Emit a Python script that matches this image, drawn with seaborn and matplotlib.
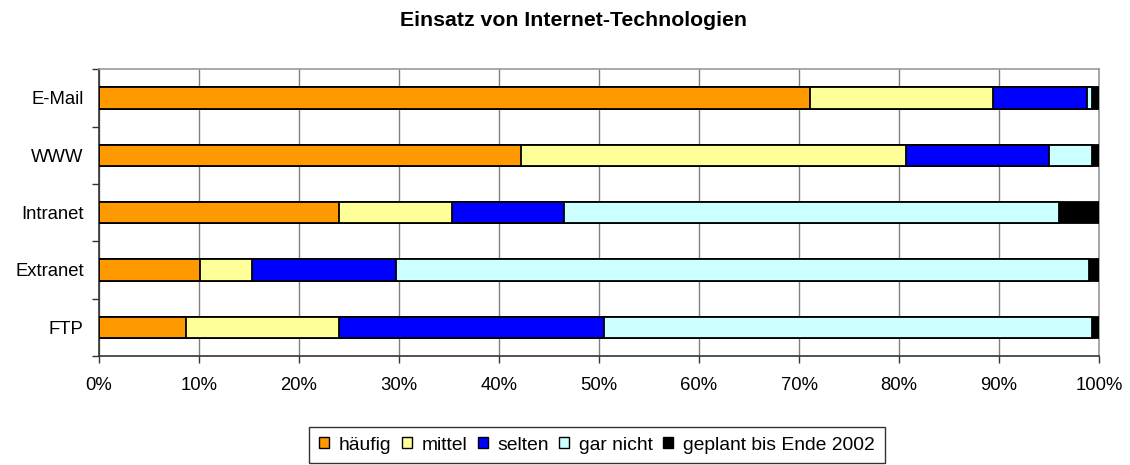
import matplotlib
matplotlib.use("Agg")
import matplotlib.pyplot as plt
import seaborn as sns
import numpy as np
import pandas as pd
from matplotlib.patches import Patch
from matplotlib.ticker import FuncFormatter, FixedLocator

# ---- data (percent) ----
categories = ["E-Mail", "WWW", "Intranet", "Extranet", "FTP"]
haeufig = [71.1, 42.2, 24.0, 10.1, 8.7]
mittel = [18.3, 38.5, 11.3, 5.2, 15.3]
selten = [9.4, 14.3, 11.2, 14.4, 26.5]
gar_nicht = [0.5, 4.3, 49.5, 69.3, 48.8]
geplant = [0.7, 0.7, 4.0, 1.0, 0.7]

series_names = ["häufig", "mittel", "selten", "gar nicht", "geplant bis Ende 2002"]
series_colors = ["#FF9900", "#FFFF99", "#0000FF", "#CCFFFF", "#000000"]
x_ticks = [0, 10, 20, 30, 40, 50, 60, 70, 80, 90, 100]
title = "Einsatz von Internet-Technologien"

sns.set_theme(style="white")
plt.rcParams["font.family"] = ["Liberation Sans", "DejaVu Sans"]
plt.rcParams["text.color"] = "black"

df = pd.DataFrame({"Kategorie": categories,
                   series_names[0]: haeufig,
                   series_names[1]: mittel,
                   series_names[2]: selten,
                   series_names[3]: gar_nicht,
                   series_names[4]: geplant})
cum = df[series_names].cumsum(axis=1)
cum["Kategorie"] = categories

fig = plt.figure(figsize=(11.3, 4.65), dpi=100)
ax = fig.add_axes([99 / 1130, 1 - 356 / 465, 1000 / 1130, (356 - 69.3) / 465])

# draw from the longest cumulative segment to the shortest
for name, col in reversed(list(zip(series_names, series_colors))):
    sns.barplot(data=cum, x=name, y="Kategorie",
                orient="h", color=col, saturation=1, width=0.373,
                edgecolor="black", linewidth=1.3, ax=ax, zorder=3)

ax.set_xlim(0, 100)
ax.set_ylim(4.5, -0.5)
ax.set_xlabel("")
ax.set_ylabel("")
ax.xaxis.set_major_locator(FixedLocator(x_ticks))
ax.xaxis.set_major_formatter(FuncFormatter(lambda v, p: f"{int(round(v))}%"))
ax.grid(axis="x", color="#808080", linewidth=1.0, zorder=0)
ax.grid(axis="y", visible=False)
ax.set_axisbelow(True)

# y ticks: labels at categories, tick marks at boundaries
ax.set_yticks(range(len(categories)))
ax.set_yticklabels(categories)
ax.set_yticks(np.arange(-0.5, len(categories), 1.0), minor=True)
ax.tick_params(axis="y", which="major", length=0, pad=11, labelsize=13.3, colors="black")
ax.tick_params(axis="y", which="minor", length=5, width=1, color="#333333", left=True)
ax.tick_params(axis="x", which="major", length=5, width=1, color="#333333",
               bottom=True, pad=10, labelsize=13.3, labelcolor="black")

for s in ["left", "bottom"]:
    ax.spines[s].set_color("#333333")
    ax.spines[s].set_linewidth(1.2)
for s in ["top", "right"]:
    ax.spines[s].set_color("#999999")
    ax.spines[s].set_linewidth(1.2)

fig.text(573.5 / 1130, 1 - 20 / 465, title, ha="center", va="center",
         fontsize=15.3, fontweight="bold", color="black")

handles = [Patch(facecolor=c, edgecolor="black", linewidth=1.0) for c in series_colors]
leg = fig.legend(handles, series_names, loc="upper center", ncol=5,
                 bbox_to_anchor=(597 / 1130, 1 - 427 / 465),
                 frameon=True, fancybox=False, edgecolor="black",
                 fontsize=13.9, handlelength=0.52, handleheight=0.52,
                 handletextpad=0.52, columnspacing=0.52, borderpad=0.5,
                 borderaxespad=0)
leg.get_frame().set_linewidth(1.0)

fig.savefig("out.png", dpi=100)
